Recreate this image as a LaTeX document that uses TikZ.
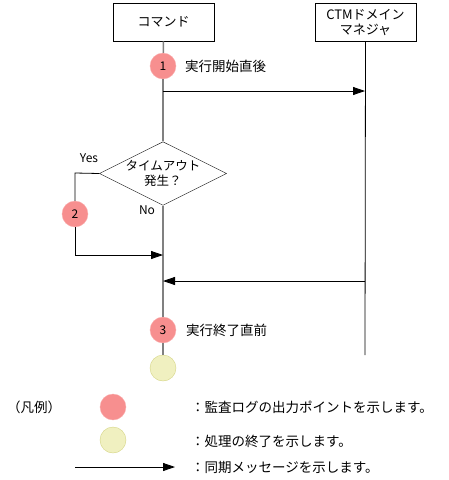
\documentclass[tikz,border=0pt]{standalone}
\usepackage{fontspec}
\setmainfont{Noto Sans CJK JP}
\usetikzlibrary{shapes.geometric,arrows.meta,positioning}

\definecolor{logred}{RGB}{247,143,143}
\definecolor{logredline}{RGB}{250,175,175}
\definecolor{endyel}{RGB}{240,240,192}
\definecolor{endyelline}{RGB}{212,212,130}
\definecolor{lifegray}{RGB}{128,128,128}

\tikzset{
    actor/.style={rectangle, draw, thick, minimum width=101pt, minimum height=38pt, align=center, font=\fontsize{13}{15}\selectfont},
    logpoint/.style={circle, fill=logred, draw=logredline, minimum size=26pt, inner sep=0pt, font=\fontsize{12}{14}\selectfont},
    endpoint/.style={circle, fill=endyel, draw=endyelline, minimum size=26pt, inner sep=0pt},
    decide/.style={diamond, draw, aspect=2, minimum width=124pt, minimum height=63pt, inner sep=0pt, align=center, font=\fontsize{12.5}{15}\selectfont},
    lbl/.style={font=\fontsize{13.5}{15}\selectfont, inner sep=1pt},
    yn/.style={font=\fontsize{12}{14}\selectfont, inner sep=1pt},
    lifeline/.style={draw=lifegray, line width=1.5pt},
    msg/.style={-{Triangle[length=12pt, width=8pt]}, line width=0.8pt}
}

\begin{document}
\begin{tikzpicture}[x=1pt, y=-1pt]
    \useasboundingbox (0,0) rectangle (448,480);

    % lifeline heads
    \node (cmd) [actor] at (163.5,22) {コマンド};
    \node (ctm) [actor] at (365.5,22) {CTMドメイン\\マネジャ};

    % points on the command side
    \node (p1) [logpoint] at (163,66) {1};
    \node (p1txt) [lbl, anchor=west] at (184,66) {実行開始直後};
    \node (timeout) [decide] at (163,173.5) {タイムアウト\\発生？};
    \node (yes) [yn] at (89,158) {Yes};
    \node (no) [yn] at (147,210) {No};
    \node (p2) [logpoint] at (75,214) {2};
    \node (p3) [logpoint] at (163,330) {3};
    \node (p3txt) [lbl, anchor=west] at (185,330) {実行終了直前};
    \node (fin) [endpoint] at (163,368) {};

    \coordinate (callout) at (163,91);
    \coordinate (callin) at (365,91);
    \coordinate (yescorner) at (75,173);
    \coordinate (rejoin) at (163,255);
    \coordinate (retout) at (365,281);
    \coordinate (retin) at (163,281);
    \coordinate (ctmend) at (365,355);

    % lifelines
    \draw[lifeline] (cmd.south) -- (p1);
    \draw[lifeline] (p1) -- (timeout.north);
    \draw[lifeline] (timeout.south) -- (p3);
    \draw[lifeline] (p3) -- (fin);
    \draw[line width=0.8pt] (ctm.south) -- (ctmend);

    % messages
    \draw[line width=0.8pt] (timeout.west) -- (yescorner) -- (p2);
    \draw[msg] (p2) |- (rejoin);
    \draw[msg] (callout) -- (callin);
    \draw[msg] (retout) -- (retin);

    % legend
    \node (legend) [lbl, anchor=west] at (6,407) {（凡例）};
    \node (lgred) [logpoint] at (113,407) {};
    \node (lgredtxt) [lbl, anchor=west] at (190,407) {：監査ログの出力ポイントを示します。};
    \node (lgyel) [endpoint] at (113,440) {};
    \node (lgyeltxt) [lbl, anchor=west] at (190,441) {：処理の終了を示します。};
    \coordinate (lgfrom) at (75,467);
    \coordinate (lgto) at (175,467);
    \draw[msg] (lgfrom) -- (lgto);
    \node (lgmsgtxt) [lbl, anchor=west] at (190,467) {：同期メッセージを示します。};
\end{tikzpicture}
\end{document}
